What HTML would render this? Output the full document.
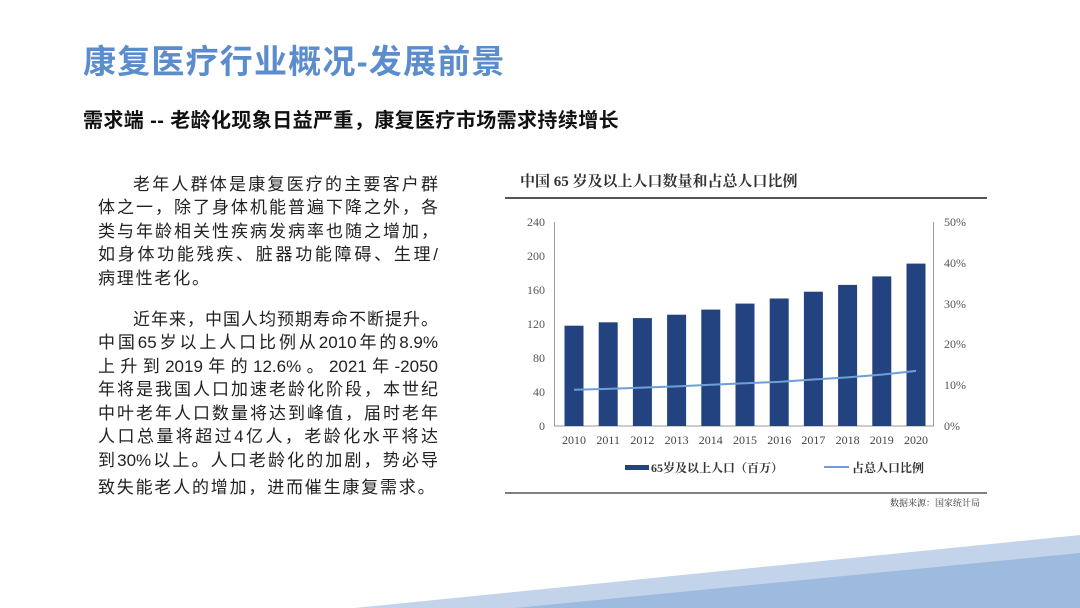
<!DOCTYPE html>
<html><head><meta charset="utf-8"><style>
body{margin:0;width:1080px;height:608px;background:#fff;position:relative;overflow:hidden;font-family:"Liberation Sans","Noto Sans CJK SC",sans-serif;}
.t{position:absolute;white-space:nowrap;}
.p{position:absolute;left:98px;width:340px;font-size:17px;color:#222;line-height:20px;white-space:nowrap;text-align:justify;text-align-last:justify;}
.s{text-align-last:left;letter-spacing:1.8px;}
</style></head><body>
<svg style="position:absolute;left:0;top:0" width="1080" height="608">
<polygon points="355,608 1080,535 1080,608" fill="#c3d4ea"/>
<polygon points="515,608 1080,553 1080,608" fill="#9dbadf"/>
</svg>
<div class="t" style="left:83px;top:35px;font-size:33px;letter-spacing:1.2px;font-weight:bold;color:#5b8dcc;">康复医疗行业概况-发展前景</div>
<div class="t" style="left:83px;top:104px;font-size:20px;letter-spacing:0.4px;font-weight:bold;color:#111;">需求端 -- 老龄化现象日益严重，康复医疗市场需求持续增长</div>
<div class="p" style="top:175px;left:133px;width:305px">老年人群体是康复医疗的主要客户群</div>
<div class="p" style="top:198px">体之一，除了身体机能普遍下降之外，各</div>
<div class="p" style="top:222px">类与年龄相关性疾病发病率也随之增加，</div>
<div class="p" style="top:245px">如身体功能残疾、脏器功能障碍、生理/</div>
<div class="p s" style="top:269px">病理性老化。</div>
<div class="p" style="top:310px;left:133px;width:305px">近年来，中国人均预期寿命不断提升。</div>
<div class="p" style="top:333px">中国65岁以上人口比例从2010年的8.9%</div>
<div class="p" style="top:357px">上升到2019年的12.6%。2021年-2050</div>
<div class="p" style="top:380px">年将是我国人口加速老龄化阶段，本世纪</div>
<div class="p" style="top:404px">中叶老年人口数量将达到峰值，届时老年</div>
<div class="p" style="top:427px">人口总量将超过4亿人，老龄化水平将达</div>
<div class="p" style="top:451px">到30%以上。人口老龄化的加剧，势必导</div>
<div class="p s" style="top:478px">致失能老人的增加，进而催生康复需求。</div>

<svg style="position:absolute;left:0;top:0" width="1080" height="608" font-family="Liberation Serif, Noto Serif CJK SC, serif">
<text x="520" y="186" font-size="15" font-weight="bold" fill="#333">中国 65 岁及以上人口数量和占总人口比例</text>
<line x1="505" y1="198" x2="987" y2="198" stroke="#555" stroke-width="2"/>
<line x1="505" y1="493" x2="987" y2="493" stroke="#555" stroke-width="1.5"/>
<text x="980" y="506" font-size="9" fill="#333" text-anchor="end">数据来源：国家统计局</text>
<g stroke="#999" stroke-width="1">
<line x1="554.5" y1="222" x2="554.5" y2="426"/>
<line x1="933.5" y1="222" x2="933.5" y2="426"/>
<line x1="554" y1="426" x2="934" y2="426"/>
</g>
<g font-size="12" fill="#555" text-anchor="end">
<text x="545" y="430">0</text><text x="545" y="396">40</text><text x="545" y="362">80</text><text x="545" y="328">120</text><text x="545" y="294">160</text><text x="545" y="260">200</text><text x="545" y="226">240</text>
</g>
<g font-size="12" fill="#555">
<text x="944" y="430">0%</text><text x="944" y="389">10%</text><text x="944" y="348">20%</text><text x="944" y="308">30%</text><text x="944" y="267">40%</text><text x="944" y="226">50%</text>
</g>
<g fill="#22437f">
<rect x="564.5" y="325.7" width="19" height="100.3"/>
<rect x="598.7" y="322.3" width="19" height="103.7"/>
<rect x="632.9" y="318.1" width="19" height="107.9"/>
<rect x="667.1" y="314.7" width="19" height="111.3"/>
<rect x="701.3" y="309.6" width="19" height="116.4"/>
<rect x="735.5" y="303.6" width="19" height="122.4"/>
<rect x="769.7" y="298.5" width="19" height="127.5"/>
<rect x="803.9" y="291.7" width="19" height="134.3"/>
<rect x="838.1" y="284.9" width="19" height="141.1"/>
<rect x="872.3" y="276.4" width="19" height="149.6"/>
<rect x="906.5" y="263.6" width="19" height="162.4"/>
</g>
<polyline fill="none" stroke="#6f9fd8" stroke-width="2" points="574,389.7 608.2,388.9 642.4,387.6 676.6,386.4 710.8,384.8 745,383.2 779.2,381.9 813.4,379.5 847.6,377.4 881.8,374.6 916,370.9"/>
<g font-size="12" fill="#444" text-anchor="middle">
<text x="574" y="444">2010</text><text x="608.2" y="444">2011</text><text x="642.4" y="444">2012</text><text x="676.6" y="444">2013</text><text x="710.8" y="444">2014</text><text x="745" y="444">2015</text><text x="779.2" y="444">2016</text><text x="813.4" y="444">2017</text><text x="847.6" y="444">2018</text><text x="881.8" y="444">2019</text><text x="916" y="444">2020</text>
</g>
<rect x="625" y="465" width="24" height="5" fill="#22437f"/>
<text x="651" y="472" font-size="12" font-weight="bold" fill="#333">65岁及以上人口（百万）</text>
<line x1="824" y1="467" x2="849" y2="467" stroke="#6f9fd8" stroke-width="2"/>
<text x="852" y="472" font-size="12" font-weight="bold" fill="#333">占总人口比例</text>
</svg>
</body></html>
